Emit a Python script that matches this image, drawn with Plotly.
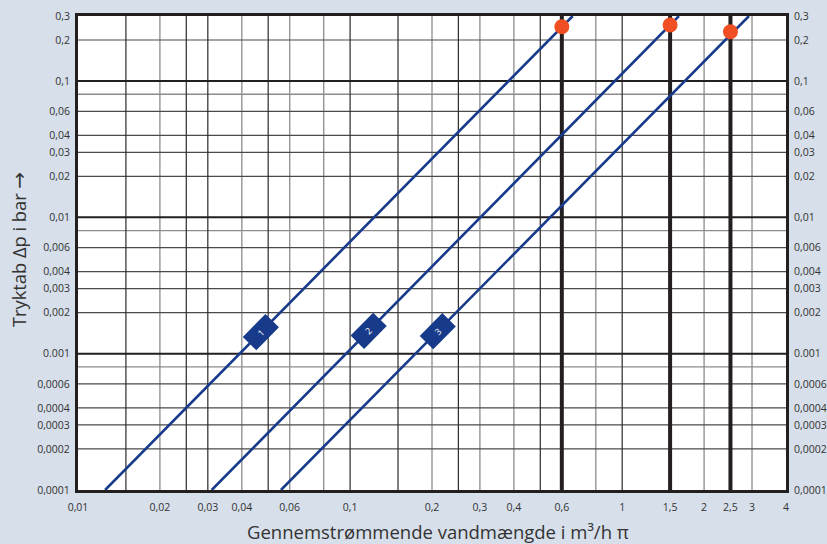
import numpy as np
import plotly.graph_objects as go

# ---------------- data ----------------
x_tick_vals = [0.01, 0.02, 0.03, 0.04, 0.06, 0.1, 0.2, 0.3, 0.4, 0.6, 1, 1.5, 2, 2.5, 3, 4]
x_tick_text = ["0,01", "0,02", "0,03", "0,04", "0,06", "0,1", "0,2", "0,3", "0,4", "0,6",
               "1", "1,5", "2", "2,5", "3", "4"]
y_tick_vals = [0.0001, 0.0002, 0.0003, 0.0004, 0.0006, 0.001, 0.002, 0.003, 0.004, 0.006,
               0.01, 0.02, 0.03, 0.04, 0.06, 0.1, 0.2, 0.3]
y_tick_text = ["0,0001", "0,0002", "0,0003", "0,0004", "0,0006", "0.001", "0,002", "0,003",
               "0,004", "0,006", "0,01", "0,02", "0,03", "0,04", "0,06", "0,1", "0,2", "0,3"]

x_grid_dark = [0.015, 0.025, 0.03, 0.05, 0.1, 0.15, 0.25, 0.5, 1]
x_grid_light = [0.02, 0.04, 0.06, 0.08, 0.2, 0.3, 0.4, 0.8, 2, 3]
x_grid_bold = [0.6, 1.5, 2.5]
y_grid_decade = [0.001, 0.01, 0.1]
y_grid_dark = [0.0002, 0.0003, 0.0004, 0.0006, 0.002, 0.003, 0.004, 0.006,
               0.02, 0.03, 0.04, 0.06, 0.2]
y_grid_light = [0.0008, 0.008, 0.08]

x_range = [0.01, 4]
y_range = [0.0001, 0.3]

series_names = ["1", "2", "3"]
series_flow = [[0.01258, 0.658], [0.0310, 1.616], [0.0557, 2.924]]
series_dp = [[0.0001, 0.3], [0.0001, 0.3], [0.0001, 0.3]]

point_flow = [0.6, 1.5, 2.5]
point_dp = [0.25, 0.258, 0.23]

badge_flow = [0.047, 0.117, 0.21]

# ---------------- styles ----------------
BLUE = "#173a8a"
RED = "#f04e23"
BG = "#d7dfea"
FONT = "Open Sans"
TXT = "#333333"


def grid_trace(xs=None, ys=None, color="#333", width=1.0):
    gx, gy = [], []
    if xs is not None:
        for v in xs:
            gx += [v, v, None]
            gy += [y_range[0], y_range[1], None]
    if ys is not None:
        for v in ys:
            gx += [x_range[0], x_range[1], None]
            gy += [v, v, None]
    return go.Scatter(x=gx, y=gy, mode="lines", line=dict(color=color, width=width),
                      hoverinfo="skip", showlegend=False, cliponaxis=True)


fig = go.Figure()

# grid lines
fig.add_trace(grid_trace(ys=y_grid_light, color="#8c8c8c", width=1.3))
fig.add_trace(grid_trace(xs=x_grid_light, color="#8c8c8c", width=1.3))
fig.add_trace(grid_trace(ys=y_grid_dark, color="#4a4a4a", width=1.2))
fig.add_trace(grid_trace(xs=x_grid_dark, color="#2a2a2a", width=1.2))
fig.add_trace(grid_trace(ys=y_grid_decade, color="#231f20", width=2.0))
fig.add_trace(grid_trace(xs=x_grid_bold, color="#231f20", width=4.0))


def dp_on_line(i, q):
    lx = np.log10(series_flow[i])
    ly = np.log10(series_dp[i])
    lq = np.log10(q)
    return 10 ** (ly[0] + (lq - lx[0]) * (ly[1] - ly[0]) / (lx[1] - lx[0]))


# series lines
for i, name in enumerate(series_names):
    fig.add_trace(go.Scatter(x=series_flow[i], y=series_dp[i], mode="lines",
                             line=dict(color=BLUE, width=2.6), name=name,
                             hoverinfo="skip", showlegend=False))

# badges on lines
annotations = []
f = 1.1004
for i, name in enumerate(series_names):
    q = badge_flow[i]
    qs = [q / f, q * f]
    fig.add_trace(go.Scatter(x=qs, y=[dp_on_line(i, v) for v in qs], mode="lines",
                             line=dict(color=BLUE, width=19), hoverinfo="skip",
                             showlegend=False))
    annotations.append(dict(x=np.log10(q), y=np.log10(dp_on_line(i, q)), xref="x", yref="y",
                            text=name, showarrow=False, textangle=-45,
                            font=dict(family=FONT, size=9, color="white")))

# operating points
fig.add_trace(go.Scatter(x=point_flow, y=point_dp, mode="markers",
                         marker=dict(color=RED, size=15, line=dict(width=0)),
                         hoverinfo="skip", showlegend=False, cliponaxis=False))

# dummy for right axis
fig.add_trace(go.Scatter(x=[None], y=[None], yaxis="y2", showlegend=False, hoverinfo="skip"))

annotations.append(dict(text="Gennemstrømmende vandmængde i m³/h π", xref="paper", yref="paper",
                        x=0.5, y=0, yshift=-41, xshift=6, yanchor="middle", showarrow=False,
                        font=dict(family=FONT, size=18.5, color=TXT)))
annotations.append(dict(text="Tryktab Δp i bar <span style='font-family:DejaVu Sans;font-size:20px'>→</span>",
                        xref="paper", yref="paper",
                        x=0, y=0.5, xshift=-60, yshift=3, xanchor="center", yanchor="middle",
                        textangle=-90, showarrow=False,
                        font=dict(family=FONT, size=18.3, color=TXT)))

axis_common = dict(type="log", showgrid=False, zeroline=False, showline=True, mirror=True,
                   linecolor="#231f20", linewidth=3, ticks="", automargin=False,
                   tickfont=dict(family=FONT, size=10.5, color=TXT))

fig.update_layout(
    width=827, height=544,
    margin=dict(l=78, r=41, t=16, b=54, autoexpand=False),
    paper_bgcolor=BG, plot_bgcolor="white",
    showlegend=False,
    xaxis=dict(**axis_common, range=[np.log10(x_range[0]), np.log10(x_range[1])],
               tickmode="array", tickvals=x_tick_vals, ticktext=x_tick_text,
               ticklabelstandoff=5),
    yaxis=dict(**axis_common, range=[np.log10(y_range[0]), np.log10(y_range[1])],
               tickmode="array", tickvals=y_tick_vals, ticktext=y_tick_text,
               ticklabelstandoff=3),
    yaxis2=dict(**axis_common, overlaying="y", side="right", matches="y",
                range=[np.log10(y_range[0]), np.log10(y_range[1])],
                tickmode="array", tickvals=y_tick_vals, ticktext=y_tick_text,
                ticklabelstandoff=3),
    annotations=annotations,
)

fig.write_html("out.html", config={"displayModeBar": False},
               post_script="document.body.style.margin='0px';document.body.style.background='%s';" % BG)
